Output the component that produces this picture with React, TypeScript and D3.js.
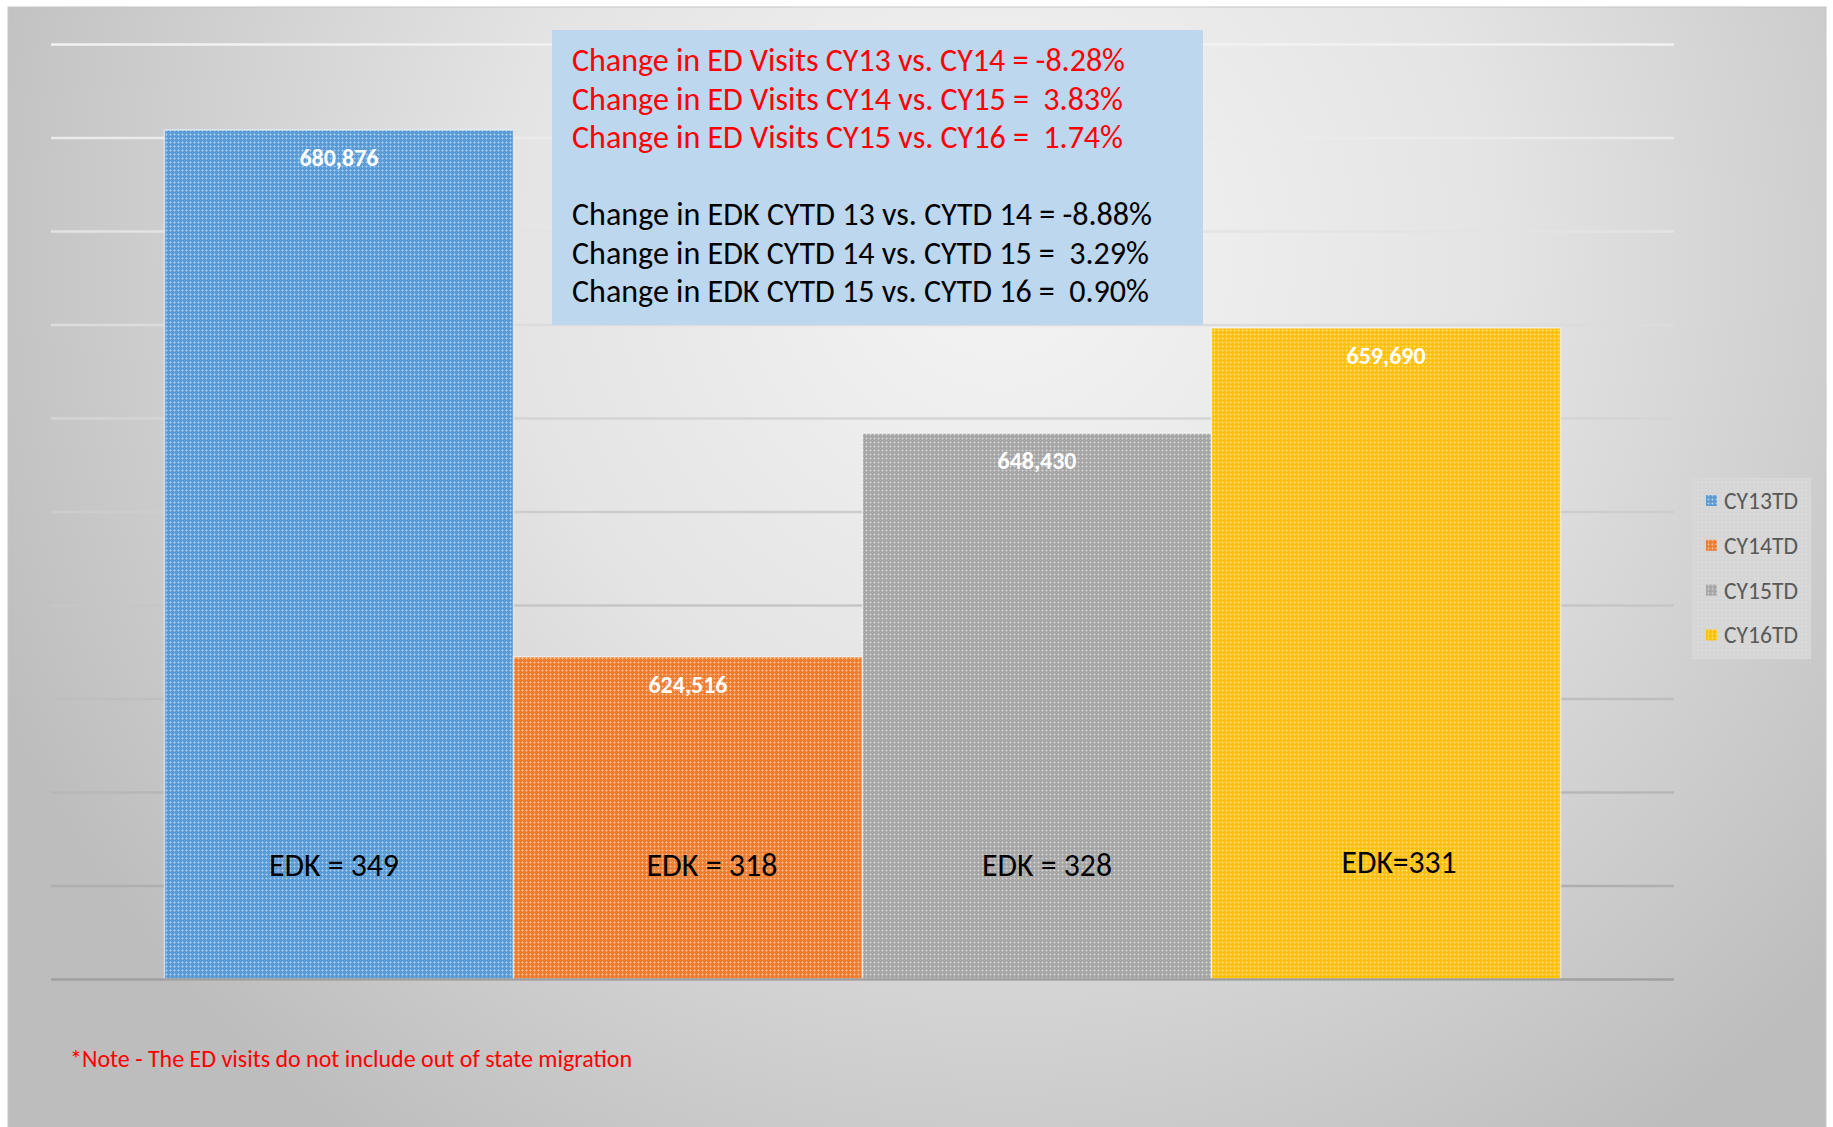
import React from "react";
import * as d3 from "d3";

// ---------- data ----------
const seriesNames = ["CY13TD", "CY14TD", "CY15TD", "CY16TD"];
const edVisits = [680876, 624516, 648430, 659690];
const edkLabels = ["EDK = 349", "EDK = 318", "EDK = 328", "EDK=331"];
const seriesColors = ["#5B9BD5", "#ED7D31", "#A5A5A5", "#FFC000"];
const yDomain = [590000, 690000];
const yTickStep = 10000;
const redLines = [
  "Change in ED Visits CY13 vs. CY14 = -8.28%",
  "Change in ED Visits CY14 vs. CY15 =  3.83%",
  "Change in ED Visits CY15 vs. CY16 =  1.74%",
];
const blackLines = [
  "Change in EDK CYTD 13 vs. CYTD 14 = -8.88%",
  "Change in EDK CYTD 14 vs. CYTD 15 =  3.29%",
  "Change in EDK CYTD 15 vs. CYTD 16 =  0.90%",
];
const noteText = "*Note - The ED visits do not include out of state migration";

// ---------- layout ----------
const W = 1833;
const H = 1127;
const FONT = "Carlito, Calibri, Lato, 'Open Sans', sans-serif";
const plot = { left: 51, right: 1674, top: 44.6, bottom: 979.6 };
const gapWidth = 0.65;

export default function App() {
  const y = d3.scaleLinear().domain(yDomain).range([plot.bottom, plot.top]);
  const ticks = d3.range(yDomain[0], yDomain[1] + 1, yTickStep);
  const outer = d3
    .scaleBand<string>()
    .domain(["total"])
    .range([plot.left, plot.right])
    .paddingInner(0)
    .paddingOuter(gapWidth / (2 * seriesNames.length));
  const x = d3
    .scaleBand<string>()
    .domain(seriesNames)
    .range([outer("total")!, outer("total")! + outer.bandwidth()])
    .padding(0);
  const gridColor = d3
    .scaleLinear<string>()
    .domain([plot.top, plot.bottom])
    .range(["#f2f2f2", "#a8a8a8"])
    .interpolate(d3.interpolateRgb);

  const edkOffsets = [-5, 24, 10, 13];
  const edkDy = [0, 0, 0, -3];
  const edkLens = [130, 131, 130, 115];
  const redLens = [553, 551, 551];
  const blackLens = [580, 577, 577];

  return (
    <svg
      width={W}
      height={H}
      style={{ position: "absolute", left: 0, top: 0 }}
      fontFamily={FONT}
    >
      <defs>
        <radialGradient id="bg" gradientUnits="userSpaceOnUse" cx={1000} cy={250} r={1100}>
          <stop offset="0" stopColor="#f4f4f4" />
          <stop offset="0.45" stopColor="#e4e4e4" />
          <stop offset="1" stopColor="#bdbdbd" />
        </radialGradient>
        {seriesColors.map((c, i) => (
          <pattern key={i} id={`pat${i}`} width={4} height={4} patternUnits="userSpaceOnUse">
            <rect width={4} height={4} fill={c} />
            <rect x={1} y={2} width={3} height={1} fill="#ffffff" opacity={0.28} />
            <rect x={2} y={1} width={1} height={3} fill="#ffffff" opacity={0.28} />
          </pattern>
        ))}
        <pattern id="legpat" width={4} height={4} patternUnits="userSpaceOnUse">
          <rect width={4} height={4} fill="#d6d6d6" />
          <rect x={2} y={2} width={1} height={1} fill="#e4e4e4" />
        </pattern>
      </defs>

      <rect x={8} y={7} width={1818} height={1121} fill="url(#bg)" stroke="#c6c6c6" strokeWidth={1} />

      {/* gridlines */}
      {ticks.slice(1).map((t) => (
        <line
          key={t}
          x1={plot.left}
          x2={plot.right}
          y1={y(t)}
          y2={y(t)}
          stroke={gridColor(y(t))}
          strokeWidth={2.5}
        />
      ))}

      {/* bars */}
      {seriesNames.map((s, i) => (
        <rect
          key={s}
          x={x(s)}
          y={y(edVisits[i])}
          width={x.bandwidth()}
          height={y(yDomain[0]) - y(edVisits[i])}
          fill={`url(#pat${i})`}
          stroke="rgba(255,255,255,0.55)"
          strokeWidth={1.5}
        />
      ))}

      {/* axis line */}
      <line x1={plot.left} x2={plot.right} y1={y(yDomain[0])} y2={y(yDomain[0])} stroke="#a0a0a0" strokeWidth={2.5} />

      {/* value labels */}
      {seriesNames.map((s, i) => (
        <text
          key={s}
          x={x(s)! + x.bandwidth() / 2}
          y={y(edVisits[i]) + 36}
          textAnchor="middle"
          fill="#ffffff"
          fontWeight="bold"
          fontSize={25}
          textLength={79}
          lengthAdjust="spacingAndGlyphs"
        >
          {d3.format(",")(edVisits[i])}
        </text>
      ))}

      {/* EDK labels */}
      {seriesNames.map((s, i) => (
        <text
          key={s}
          x={x(s)! + x.bandwidth() / 2 + edkOffsets[i]}
          y={876 + edkDy[i]}
          textAnchor="middle"
          fill="#000000"
          fontSize={33}
          textLength={edkLens[i]}
          lengthAdjust="spacingAndGlyphs"
        >
          {edkLabels[i]}
        </text>
      ))}

      {/* text box */}
      <rect x={552} y={30} width={651} height={295} fill="#BDD7EE" />
      {redLines.map((t, i) => (
        <text
          key={t}
          x={572}
          y={71 + i * 38.6}
          fill="#FF0000"
          fontSize={33}
          style={{ whiteSpace: "pre" }}
          textLength={redLens[i]}
          lengthAdjust="spacingAndGlyphs"
        >
          {t}
        </text>
      ))}
      {blackLines.map((t, i) => (
        <text
          key={t}
          x={572}
          y={225 + i * 38.6}
          fill="#000000"
          fontSize={33}
          style={{ whiteSpace: "pre" }}
          textLength={blackLens[i]}
          lengthAdjust="spacingAndGlyphs"
        >
          {t}
        </text>
      ))}

      {/* legend */}
      <rect x={1692} y={478} width={119} height={181} fill="url(#legpat)" />
      {seriesNames.map((s, i) => (
        <g key={s} transform={`translate(1706, ${501 + i * 44.8})`}>
          <rect x={0} y={-6} width={11} height={11} fill={`url(#pat${i})`} />
          <text
            x={18}
            y={8}
            fill="#595959"
            fontSize={24}
            textLength={74}
            lengthAdjust="spacingAndGlyphs"
          >
            {s}
          </text>
        </g>
      ))}

      {/* note */}
      <text
        x={70}
        y={1067}
        fill="#FF0000"
        fontSize={25}
        textLength={562}
        lengthAdjust="spacingAndGlyphs"
      >
        {noteText}
      </text>
    </svg>
  );
}
